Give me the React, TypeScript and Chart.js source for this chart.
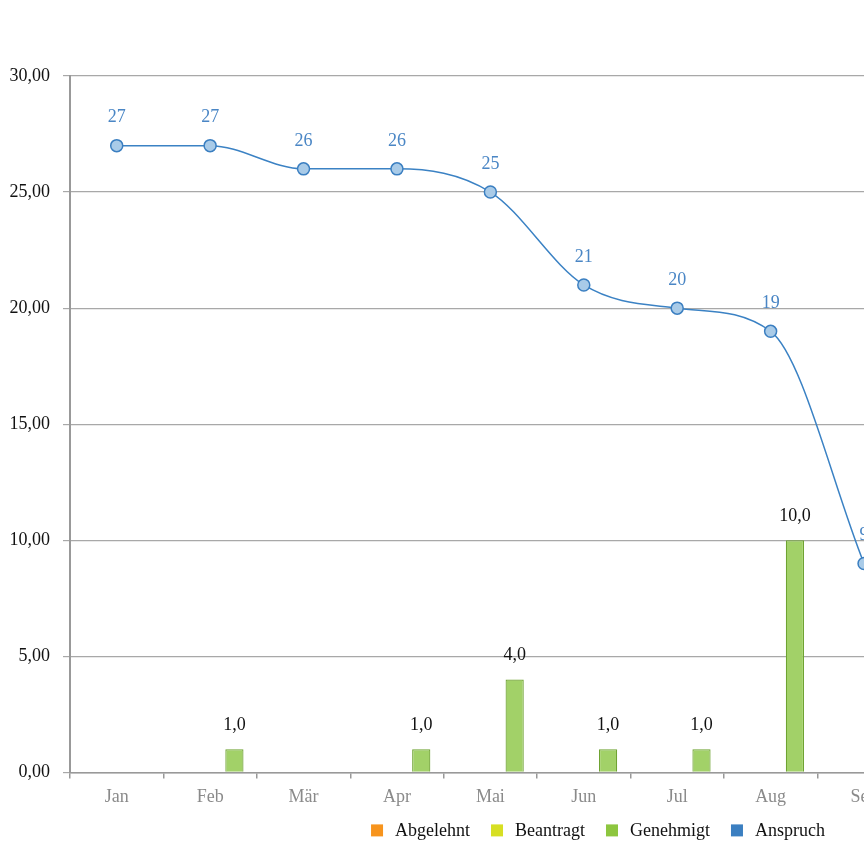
import React, { useEffect, useRef } from "react";
import { Chart, registerables } from "chart.js";

Chart.register(...registerables);

const months = ["Jan", "Feb", "Mär", "Apr", "Mai", "Jun", "Jul", "Aug", "Sep", "Okt", "Nov", "Dez"];
const abgelehnt: (number | null)[] = [null, null, null, null, null, null, null, null, null, null, null, null];
const beantragt: (number | null)[] = [null, null, null, null, null, null, null, null, null, null, null, null];
const genehmigt: (number | null)[] = [null, 1, null, 1, 4, 1, 1, 10, null, null, null, null];
const anspruch: (number | null)[] = [27, 27, 26, 26, 25, 21, 20, 19, 9, null, null, null];
const legendNames = ["Abgelehnt", "Beantragt", "Genehmigt", "Anspruch"];
const legendColors = ["#f7941d", "#d7df23", "#8dc63f", "#3b7fc1"];

const FONT = "'Liberation Serif', 'Times New Roman', serif";

const labelPlugin = {
  id: "valueLabels",
  afterDatasetsDraw(chart: any) {
    const ctx = chart.ctx;
    ctx.save();
    ctx.font = `18px ${FONT}`;
    ctx.textAlign = "center";
    ctx.textBaseline = "middle";
    chart.data.datasets.forEach((ds: any, i: number) => {
      const meta = chart.getDatasetMeta(i);
      meta.data.forEach((el: any, j: number) => {
        const v = ds.data[j];
        if (v == null || v === 0) return;
        if (ds.type === "line") {
          ctx.fillStyle = "#4a86c5";
          ctx.fillText(String(v), el.x, el.y - 28);
        } else {
          ctx.fillStyle = "#111";
          ctx.fillText(v.toFixed(1).replace(".", ","), el.x, el.y - 24);
        }
      });
    });
    ctx.restore();
  },
};

// Legend drawn below the x axis, centred like the reference
const legendPlugin = {
  id: "bottomLegend",
  afterDraw(chart: any) {
    const ctx = chart.ctx;
    ctx.save();
    ctx.font = `18px ${FONT}`;
    ctx.textBaseline = "middle";
    ctx.textAlign = "left";
    const box = 12;
    const gapBox = 12;
    const gapItem = 21;
    const widths = legendNames.map((n) => ctx.measureText(n).width);
    const total =
      widths.reduce((a, w) => a + box + gapBox + w, 0) + gapItem * (legendNames.length - 1);
    const cx = 598;
    const cy = chart.chartArea.bottom + 58;
    let x = cx - total / 2;
    legendNames.forEach((n, k) => {
      ctx.fillStyle = legendColors[k];
      ctx.fillRect(x, cy - box / 2, box, box);
      x += box + gapBox;
      ctx.fillStyle = "#111";
      ctx.fillText(n, x, cy + 1);
      x += widths[k] + gapItem;
    });
    ctx.restore();
  },
};

export default function App() {
  const ref = useRef<HTMLCanvasElement | null>(null);
  useEffect(() => {
    if (!ref.current) return;
    Chart.defaults.font.family = FONT;
    const chart = new Chart(ref.current, {
      type: "bar",
      data: {
        labels: months,
        datasets: [
          {
            type: "line",
            label: "Anspruch",
            data: anspruch,
            borderColor: "#3b82c4",
            borderWidth: 1.5,
            backgroundColor: "#a9cbe8",
            pointBackgroundColor: "#a9cbe8",
            pointBorderColor: "#3b7fc1",
            pointBorderWidth: 1.5,
            pointRadius: 6,
            cubicInterpolationMode: "monotone",
            fill: false,
            order: 0,
          } as any,
          {
            type: "bar",
            label: "Abgelehnt",
            data: abgelehnt,
            backgroundColor: "#f7941d",
            order: 1,
          },
          {
            type: "bar",
            label: "Beantragt",
            data: beantragt,
            backgroundColor: "#d7df23",
            order: 1,
          },
          {
            type: "bar",
            label: "Genehmigt",
            data: genehmigt,
            backgroundColor: "#a2d168",
            borderColor: "#6fa332",
            borderWidth: 1.2,
            borderSkipped: "bottom",
            order: 1,
          },
        ],
      },
      options: {
        animation: false,
        responsive: false,
        maintainAspectRatio: false,
        datasets: {
          bar: { categoryPercentage: 0.78, barPercentage: 0.75 },
        } as any,
        layout: { padding: { top: 76, left: 8, right: 14, bottom: 48 } },
        plugins: {
          tooltip: { enabled: false },
          legend: { display: false },
        },
        scales: {
          x: {
            offset: true,
            grid: {
              offset: true,
              drawOnChartArea: false,
              tickLength: 6,
              color: "#999",
              lineWidth: 1.5,
            },
            border: { color: "#999", width: 1.5 },
            ticks: { color: "#8a8a8a", padding: 8, font: { size: 18, family: FONT } },
          },
          y: {
            min: 0,
            max: 30,
            ticks: {
              stepSize: 5,
              color: "#111",
              padding: 13,
              font: { size: 18, family: FONT },
              callback: (v: any) => Number(v).toFixed(2).replace(".", ","),
            },
            grid: { color: "#a8a8a8", lineWidth: 1.2, tickLength: 7 },
            border: { color: "#999", width: 2 },
            afterFit: (s: any) => {
              s.width = 62;
            },
          },
        },
      },
      plugins: [labelPlugin, legendPlugin],
    });
    return () => chart.destroy();
  }, []);
  return (
    <div
      style={{
        position: "absolute",
        left: 0,
        top: 0,
        width: 864,
        height: 864,
        overflow: "hidden",
        background: "#fff",
      }}
    >
      <canvas ref={ref} width={1205} height={864} style={{ display: "block" }} />
    </div>
  );
}
